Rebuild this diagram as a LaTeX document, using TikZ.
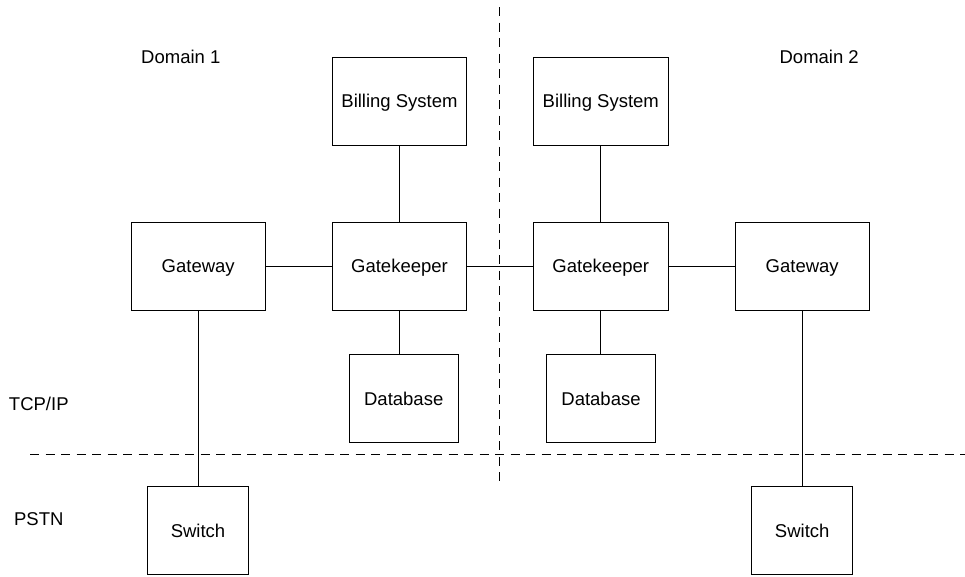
\documentclass[tikz,border=0pt]{standalone}
\usepackage{fontspec}
\setmainfont{Liberation Sans}
\begin{document}
\begin{tikzpicture}[x=1pt,y=-1pt,
  every node/.style={font=\fontsize{18.5}{22}\selectfont, text height=13.2pt, text depth=0pt, inner sep=0pt},
  unit/.style={draw, line width=1pt, minimum height=88pt},
  wide/.style={unit, minimum width=134.4pt},
  mid/.style={unit, minimum width=109.4pt},
  narrow/.style={unit, minimum width=100.8pt},
  link/.style={line width=1pt},
  divider/.style={line width=1pt, dash pattern=on 9pt off 6.5pt}]
\useasboundingbox (0,0) rectangle (965,576);

% Domain and network labels
\node (dom1) at (180.8,56.5) {Domain 1};
\node (dom2) at (819.2,56.5) {Domain 2};
\node (tcp) at (38.8,403.7) {TCP/IP};
\node (pstn) at (38.8,519) {PSTN};

% Domain 1 equipment
\node[wide] (billL) at (399.5,101.3) {Billing System};
\node[wide] (gwL) at (198.2,266.3) {Gateway};
\node[wide] (gkL) at (399.5,266.3) {Gatekeeper};
\node[mid] (dbL) at (403.7,398.5) {Database};
\node[narrow] (swL) at (198,530.8) {Switch};

% Domain 2 equipment
\node[wide] (billR) at (600.8,101.3) {Billing System};
\node[wide] (gkR) at (600.8,266.3) {Gatekeeper};
\node[wide] (gwR) at (802.2,266.3) {Gateway};
\node[mid] (dbR) at (601,398.5) {Database};
\node[narrow] (swR) at (802.2,530.8) {Switch};

% Domain and network boundaries
\coordinate (vtop) at (499.5,7);
\coordinate (vbot) at (499.5,483);
\coordinate (hleft) at (30,454);
\coordinate (hright) at (965,454);
\draw[divider] (vtop) -- (vbot);
\draw[divider] (hleft) -- (hright);

% Links
\draw[link] (billL) -- (gkL);
\draw[link] (gwL) -- (gkL);
\draw[link] (gkL) -- (gkR);
\draw[link] (gkR) -- (gwR);
\draw[link] (billR) -- (gkR);
\draw[link] (gkL.south) -- (gkL.south |- dbL.north);
\draw[link] (gkR.south) -- (gkR.south |- dbR.north);
\draw[link] (gwL.south) -- (gwL.south |- swL.north);
\draw[link] (gwR.south) -- (gwR.south |- swR.north);
\end{tikzpicture}
\end{document}
